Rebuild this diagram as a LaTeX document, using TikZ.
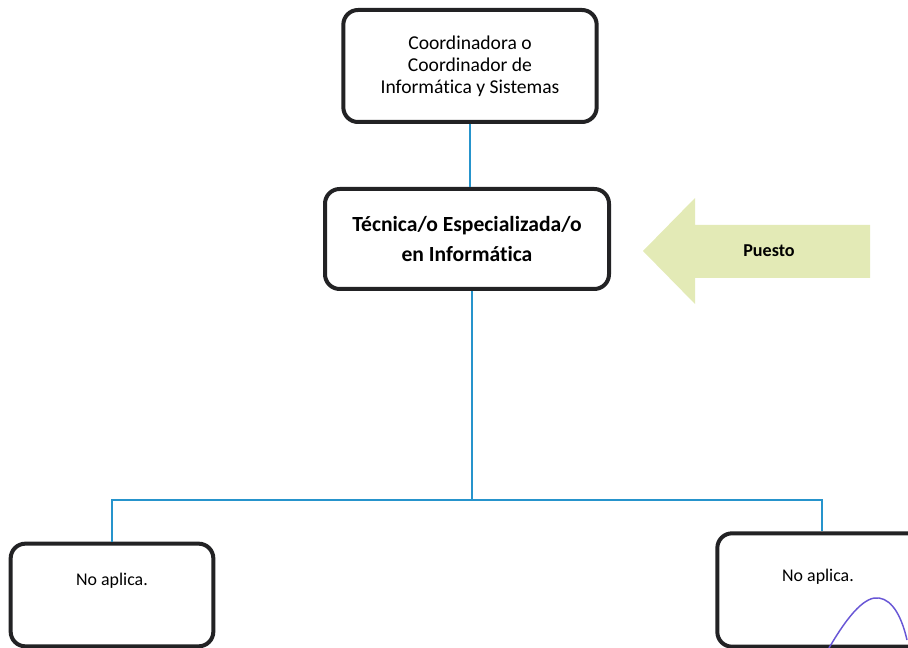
\documentclass[tikz,border=0pt]{standalone}
\usepackage{fontspec}
\setmainfont{Carlito}[Ligatures=CommonOff]
\definecolor{linkblue}{RGB}{38,148,204}
\definecolor{boxgray}{RGB}{34,34,36}
\definecolor{arrowgreen}{RGB}{227,234,182}
\definecolor{penpurple}{RGB}{104,86,214}
\begin{document}
\begin{tikzpicture}[x=0.75pt, y=-0.75pt,
      box/.style={draw=boxgray, line width=3pt, rounded corners=11pt, fill=white, align=center},
      link/.style={draw=linkblue, line width=1.5pt}]
      \useasboundingbox (0,0) rectangle (908,648);
      % Top box
      \node (coord) [box, minimum width=190pt, minimum height=84pt, font=\fontsize{14.7}{16.5}\selectfont]
        at (470,66) {Coordinadora o\\Coordinador de\\Informática y Sistemas};
      % Position box
      \node (tecnico) [box, minimum width=213pt, minimum height=75pt, font=\bfseries\fontsize{16.2}{22.5}\selectfont]
        at (467,239) {Técnica/o Especializada/o\\en Informática};
      % Bottom boxes
      \node (left) [box, minimum width=152pt, minimum height=77pt] at (112,595) {};
      \node (right) [box, minimum width=160pt, minimum height=85pt] at (824,590) {};
      \node (leftlbl) [font=\fontsize{13.4}{16}\selectfont] at (112,581) {No aplica.};
      \node (rightlbl) [font=\fontsize{13.4}{16}\selectfont] at (818,577) {No aplica.};
      % Connectors
      \coordinate (split) at (472,500);
      \draw [link] (coord.south) -- (coord.south |- tecnico.north);
      \draw [link] (tecnico.south -| split) -- (split);
      \draw [link] (split) -| (left.north);
      \draw [link] (split) -| ([xshift=-1.5pt]right.north);
      % Arrow pointing at the position
      \fill [arrowgreen] (643,251) -- (695,198) -- (695,225) -- (870,225)
        -- (870,278) -- (695,278) -- (695,304) -- cycle;
      \node (puesto) [font=\bfseries\fontsize{13.6}{16}\selectfont] at (769,251) {Puesto};
      % Pen mark
      \draw [penpurple, line width=1.1pt] (829,648) .. controls (850,612) and (866,596) .. (879,598)
        .. controls (893,600) and (902,618) .. (907,640);
    \end{tikzpicture}
\end{document}
